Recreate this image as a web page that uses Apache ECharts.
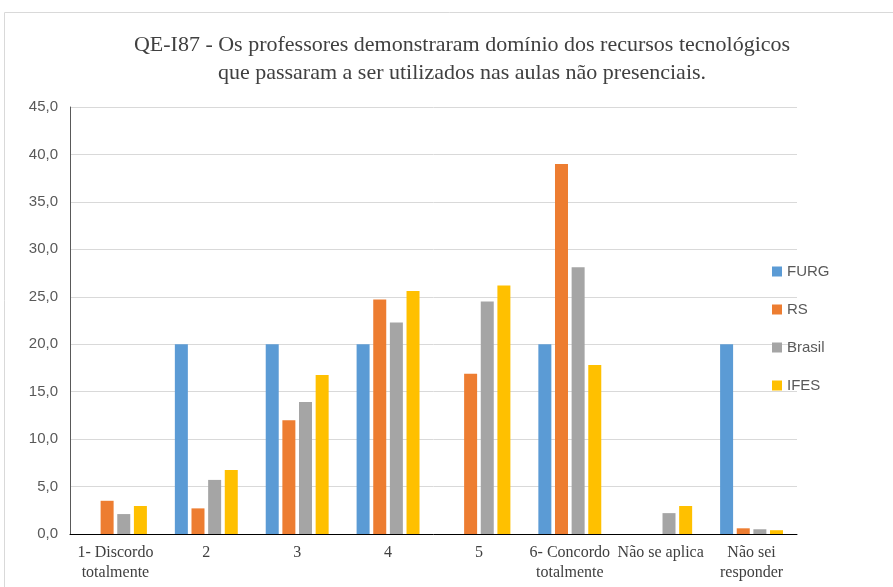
<!DOCTYPE html>
<html>
<head>
<meta charset="utf-8">
<script src="https://cdn.jsdelivr.net/npm/echarts@6/dist/echarts.min.js"></script>
<style>
  html, body { margin: 0; padding: 0; background: #fff; }
  #chart { width: 893px; height: 587px; }
</style>
</head>
<body>
<div id="chart"></div>
<script>
const categories = ['1- Discordo\ntotalmente', '2', '3', '4', '5', '6- Concordo\ntotalmente', 'Não se aplica', 'Não sei\nresponder'];
const furg   = [0, 20, 20, 20, 0, 20, 0, 20];
const rs     = [3.5, 2.7, 12.0, 24.7, 16.9, 39.0, 0, 0.6];
const brasil = [2.1, 5.7, 13.9, 22.3, 24.5, 28.1, 2.2, 0.5];
const ifes   = [2.95, 6.75, 16.75, 25.6, 26.2, 17.8, 2.95, 0.4];

const chart = echarts.init(document.getElementById('chart'));

function bar(name, data, color) {
  return {
    name: name,
    type: 'bar',
    data: data,
    barWidth: 13,
    barGap: '28%',
    itemStyle: { color: color }
  };
}

chart.setOption({
  animation: false,
  title: {
    text: 'QE-I87 - Os professores demonstraram domínio dos recursos tecnológicos\nque passaram a ser utilizados nas aulas não presenciais.',
    left: 457,
    textAlign: 'center',
    top: 26,
    textStyle: {
      fontFamily: 'Liberation Serif',
      fontSize: 22,
      fontWeight: 'normal',
      color: '#404040',
      lineHeight: 28
    }
  },
  graphic: [{
    type: 'rect',
    shape: { x: 4.5, y: 12.5, width: 900, height: 600 },
    style: { fill: 'none', stroke: '#d9d9d9', lineWidth: 1 },
    silent: true
  }],
  legend: {
    orient: 'vertical',
    left: 767,
    top: 259,
    itemWidth: 10,
    itemHeight: 10,
    itemGap: 23,
    icon: 'rect',
    textStyle: { fontFamily: 'Liberation Sans', fontSize: 15, color: '#595959' },
    data: ['FURG', 'RS', 'Brasil', 'IFES']
  },
  grid: { left: 70, right: 96, top: 107, bottom: 53 },
  xAxis: {
    type: 'category',
    data: categories,
    axisLine: { lineStyle: { color: '#000', width: 1 } },
    axisTick: { show: false },
    axisLabel: {
      interval: 0,
      fontFamily: 'Liberation Serif',
      fontSize: 16,
      color: '#404040',
      lineHeight: 20,
      margin: 9
    }
  },
  yAxis: {
    type: 'value',
    min: 0,
    max: 45,
    interval: 5,
    axisLine: { show: true, lineStyle: { color: '#595959', width: 1 } },
    axisTick: { show: false },
    splitLine: { lineStyle: { color: '#d9d9d9', width: 1 } },
    axisLabel: {
      fontFamily: 'Liberation Sans',
      fontSize: 15,
      color: '#595959',
      margin: 12,
      formatter: v => v.toFixed(1).replace('.', ',')
    }
  },
  series: [
    bar('FURG', furg, '#5B9BD5'),
    bar('RS', rs, '#ED7D31'),
    bar('Brasil', brasil, '#A5A5A5'),
    bar('IFES', ifes, '#FFC000')
  ]
});
</script>
</body>
</html>
